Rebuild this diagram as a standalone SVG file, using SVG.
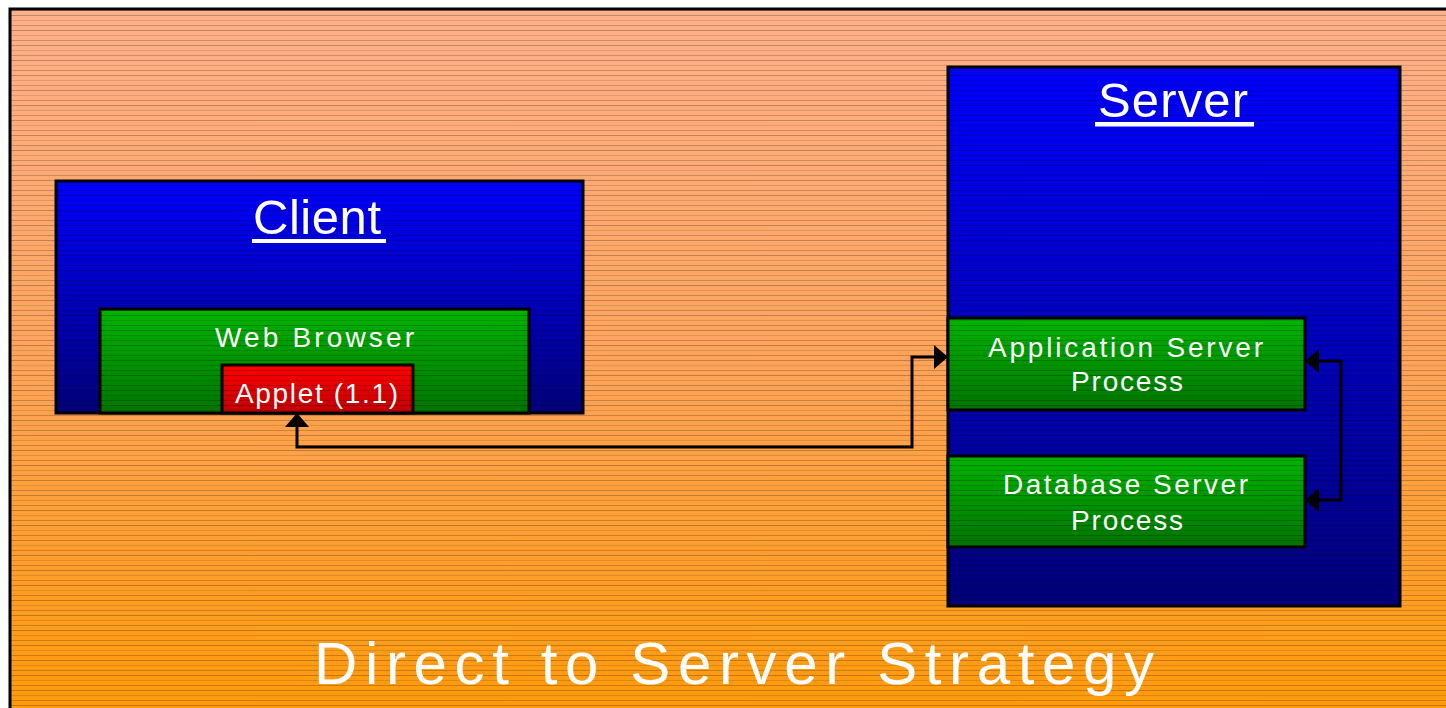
<svg xmlns="http://www.w3.org/2000/svg" width="1446" height="708" viewBox="0 0 1446 708">
  <defs>
    <linearGradient id="bgGrad" x1="0" y1="0" x2="0" y2="1">
      <stop offset="0" stop-color="#FFB08A"/>
      <stop offset="0.5" stop-color="#FFA35A"/>
      <stop offset="1" stop-color="#FF9A08"/>
    </linearGradient>
    <linearGradient id="blueGrad" x1="0" y1="0" x2="0" y2="1">
      <stop offset="0" stop-color="#0000FF"/>
      <stop offset="1" stop-color="#00007A"/>
    </linearGradient>
    <linearGradient id="greenGrad" x1="0" y1="0" x2="0" y2="1">
      <stop offset="0" stop-color="#00B400"/>
      <stop offset="1" stop-color="#007400"/>
    </linearGradient>
    <linearGradient id="redGrad" x1="0" y1="0" x2="0" y2="1">
      <stop offset="0" stop-color="#FF0000"/>
      <stop offset="1" stop-color="#C00000"/>
    </linearGradient>
    <!-- fine horizontal banding laid over every filled area -->
    <pattern id="stripes" width="20" height="15" patternUnits="userSpaceOnUse">
      <rect x="0" y="0" width="20" height="1" fill="#000" fill-opacity="0.24"/>
      <rect x="0" y="5" width="20" height="1" fill="#000" fill-opacity="0.12"/>
      <rect x="0" y="10" width="20" height="1" fill="#000" fill-opacity="0.2"/>
    </pattern>
    <marker id="arrow" markerUnits="userSpaceOnUse" viewBox="0 -12 14 24" refX="2" refY="0"
            markerWidth="14" markerHeight="24" orient="auto-start-reverse">
      <path d="M0,-12 L14,0 L0,12 Z" fill="#000"/>
    </marker>
  </defs>
  <style>
    .box { stroke: #000; stroke-width: 3; }
    .bands { fill: url(#stripes); }
    .lbl { font-family: "Liberation Sans", Arial, sans-serif; fill: #fff; }
    .title { font-size: 49px; }
    .item { font-size: 28px; }
    .uline { fill: #fff; }
    .conn { fill: none; stroke: #000; stroke-width: 3; marker-start: url(#arrow); marker-end: url(#arrow); }
  </style>

  <!-- page -->
  <rect x="0" y="0" width="1446" height="708" fill="#fff"/>
  <g id="background">
    <rect x="10" y="9" width="1450" height="710" fill="url(#bgGrad)"/>
    <rect x="10" y="9" width="1450" height="710" class="bands"/>
    <rect x="10" y="9" width="1450" height="710" fill="none" stroke="#000" stroke-width="3"/>
  </g>

  <!-- client side -->
  <g id="client">
    <rect x="56" y="181" width="527" height="232" fill="url(#blueGrad)"/>
    <rect x="56" y="181" width="527" height="232" class="bands"/>
    <rect x="56" y="181" width="527" height="232" class="box" fill="none"/>
    <text class="lbl title" x="253" y="234" textLength="128" lengthAdjust="spacing">Client</text>
    <rect class="uline" x="252" y="239" width="134" height="4"/>
  </g>

  <g id="web-browser">
    <rect x="100" y="309" width="429" height="104" fill="url(#greenGrad)"/>
    <rect x="100" y="309" width="429" height="104" class="bands"/>
    <rect x="100" y="309" width="429" height="104" class="box" fill="none"/>
    <text class="lbl item" x="215" y="347" textLength="199" lengthAdjust="spacing">Web Browser</text>
  </g>

  <g id="applet">
    <rect x="222" y="365" width="191" height="48" fill="url(#redGrad)"/>
    <rect x="222" y="365" width="191" height="48" class="bands"/>
    <rect x="222" y="365" width="191" height="48" class="box" fill="none"/>
    <text class="lbl item" x="235" y="403" textLength="163" lengthAdjust="spacing">Applet (1.1)</text>
  </g>

  <!-- server side -->
  <g id="server">
    <rect x="948" y="67" width="452" height="539" fill="url(#blueGrad)"/>
    <rect x="948" y="67" width="452" height="539" class="bands"/>
    <rect x="948" y="67" width="452" height="539" class="box" fill="none"/>
    <text class="lbl title" x="1098" y="117" textLength="150" lengthAdjust="spacing">Server</text>
    <rect class="uline" x="1095" y="122" width="159" height="4.5"/>
  </g>

  <g id="app-server">
    <rect x="948" y="318" width="357" height="92" fill="url(#greenGrad)"/>
    <rect x="948" y="318" width="357" height="92" class="bands"/>
    <rect x="948" y="318" width="357" height="92" class="box" fill="none"/>
    <text class="lbl item" x="988" y="357" textLength="275" lengthAdjust="spacing">Application Server</text>
    <text class="lbl item" x="1071" y="391" textLength="112" lengthAdjust="spacing">Process</text>
  </g>

  <g id="db-server">
    <rect x="948" y="456" width="357" height="91" fill="url(#greenGrad)"/>
    <rect x="948" y="456" width="357" height="91" class="bands"/>
    <rect x="948" y="456" width="357" height="91" class="box" fill="none"/>
    <text class="lbl item" x="1003" y="494" textLength="245" lengthAdjust="spacing">Database Server</text>
    <text class="lbl item" x="1071" y="530" textLength="112" lengthAdjust="spacing">Process</text>
  </g>

  <!-- connectors -->
  <g id="connectors">
    <path class="conn" d="M297,425 V447 H912 V357 H936"/>
    <path class="conn" d="M1317,361 H1341 V500 H1317"/>
  </g>

  <g id="caption">
    <text class="lbl" font-size="60" x="314" y="684" textLength="840" lengthAdjust="spacing">Direct to Server Strategy</text>
  </g>
</svg>
